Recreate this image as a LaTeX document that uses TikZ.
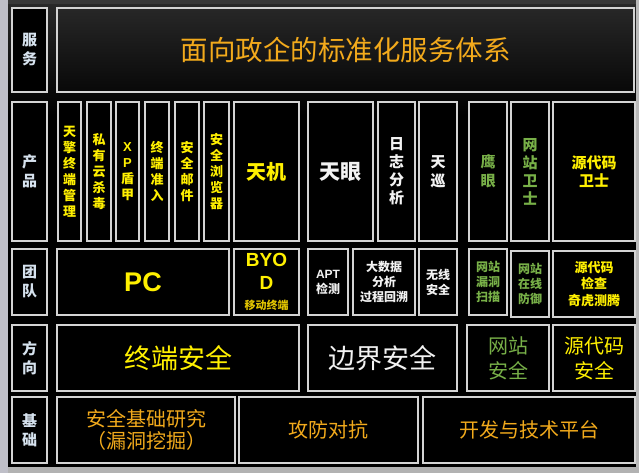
\documentclass[tikz,border=0pt]{standalone}
\usepackage{fontspec}
\setmainfont{Noto Sans CJK SC}
\newfontfamily\lat{Liberation Sans}
\newfontfamily\cjk{Noto Sans CJK SC}
\definecolor{edge}{HTML}{D4D4D4}
\definecolor{gold}{HTML}{F2AA1C}
\definecolor{yel}{HTML}{FFF000}
\definecolor{grn}{HTML}{78B048}
\definecolor{wht}{HTML}{F2F2F2}
\definecolor{lbltxt}{HTML}{D6E2EE}
\definecolor{subyel}{HTML}{E2C400}

\begin{document}
\begin{tikzpicture}[x=1pt,y=-1pt]

  \tikzset{box/.style = {draw=edge, line width=1.5pt, fill=black, inner sep=0pt, align=center}}
  \tikzset{sz/.style 2 args = {minimum width=#1pt, minimum height=#2pt}}
  \tikzset{lbl/.style = {box, sz={35}{66}, text=lbltxt, font=\bfseries\fontsize{15}{19}\selectfont}}
  \tikzset{prod/.style = {box, sz={24}{139}, text=yel, font=\bfseries\fontsize{13}{16}\selectfont}}
  \tikzset{team/.style = {box, sz={38}{66}, font=\bfseries\fontsize{12}{15}\selectfont}}
  \tikzset{big/.style = {box, minimum height=66pt, font=\fontsize{27}{30}\selectfont}}
  \tikzset{base/.style = {box, minimum height=66pt, text=gold, font=\fontsize{20}{23}\selectfont}}

  % background
  \useasboundingbox (0,0) rectangle (639,473);
  \fill[black] (0,0) rectangle (639,473);
  \shade[top color=black!84, bottom color=black] (8,4) rectangle (636,115);
  \fill[black!78] (8,0) rectangle (639,4);
  \fill[gray!45!blue!8!white!80!black] (0,0) rectangle (8,473);
  \fill[gray!55] (636,0) rectangle (639,473);
  \fill[gray!60] (8,467) rectangle (639,473);

  % row labels
  \node[lbl, minimum height=84pt] (lsvc) at (29.5,50) {服\\务};
  \node[lbl, minimum height=139pt] (lprd) at (29.5,171.5) {产\\品};
  \node[lbl] (lteam) at (29.5,282) {团\\队};
  \node[lbl] (ldir) at (29.5,358) {方\\向};
  \node[lbl] (lbase) at (29.5,430) {基\\础};

  % service
  \node[box, fill=none, sz={577}{84}, text=gold, font=\fontsize{27.5}{30}\selectfont] (svc) at (345.5,50) {面向政企的标准化服务体系};

  % products
  \node[prod, minimum width=23pt] (tq) at (69.5,171.5) {天\\擎\\终\\端\\管\\理};
  \node[prod] (sy) at (99,171.5) {私\\有\\云\\杀\\毒};
  \node[prod, minimum width=23pt] (xp) at (127.5,171.5) {{\lat X}\\{\lat P}\\盾\\甲};
  \node[prod] (zr) at (157,171.5) {终\\端\\准\\入};
  \node[prod] (yj) at (187,171.5) {安\\全\\邮\\件};
  \node[prod, minimum width=25pt] (llq) at (216.5,171.5) {安\\全\\浏\\览\\器};
  \node[prod, minimum width=65pt, font=\bfseries\fontsize{20}{24}\selectfont] (tj) at (266.5,171.5) {天机};
  \node[prod, minimum width=65pt, text=wht, font=\bfseries\fontsize{21}{24}\selectfont] (ty) at (340.5,171.5) {天眼};
  \node[prod, minimum width=37pt, text=wht, font=\bfseries\fontsize{15}{18}\selectfont] (rz) at (396.5,171.5) {日\\志\\分\\析};
  \node[prod, minimum width=38pt, text=wht, font=\bfseries\fontsize{15}{19}\selectfont] (tx) at (438,171.5) {天\\巡};
  \node[prod, minimum width=38pt, text=grn, font=\bfseries\fontsize{15}{19}\selectfont] (yy) at (488,171.5) {鹰\\眼};
  \node[prod, minimum width=38pt, text=grn, font=\bfseries\fontsize{15}{18}\selectfont] (wzws) at (530,171.5) {网\\站\\卫\\士};
  \node[prod, minimum width=82pt, font=\bfseries\fontsize{15}{18}\selectfont] (ymws) at (594,171.5) {源代码\\卫士};

  % teams
  \node[team, sz={172}{66}, text=yel, font=\bfseries\lat\fontsize{27}{30}\selectfont] (pc) at (143,282) {PC};
  \node[team, sz={65}{66}, text=yel, font=\bfseries\lat\fontsize{19}{23}\selectfont] (byod) at (266.5,282) {BYO\\D\\[-3pt]{\cjk\fontsize{11}{12}\selectfont\color{subyel}移动终端}};
  \node[team, minimum width=40pt, text=wht] (apt) at (328,282) {{\lat APT}\\检测};
  \node[team, minimum width=62pt, text=wht] (dsj) at (384,282) {大数据\\分析\\过程回溯};
  \node[team, text=wht] (wx) at (438,282) {无线\\安全};
  \node[team, text=grn] (ld) at (488,282) {网站\\漏洞\\扫描};
  \node[team, text=grn] (fy) at (530,284) {网站\\在线\\防御};
  \node[team, minimum width=82pt, text=yel, font=\bfseries\fontsize{13}{16.5}\selectfont] (jc) at (594,284) {源代码\\检查\\奇虎测腾};

  % directions
  \node[big, minimum width=242pt, text=yel] (zd) at (178,358) {终端安全};
  \node[big, minimum width=149pt, text=wht] (bj) at (382.5,358) {边界安全};
  \node[big, minimum width=82pt, text=grn, font=\fontsize{20}{25}\selectfont] (wzaq) at (508,358) {网站\\安全};
  \node[big, minimum width=82pt, text=yel, font=\fontsize{20}{25}\selectfont] (ymaq) at (594,358) {源代码\\安全};

  % base
  \node[base, minimum width=178pt, font=\fontsize{20}{22}\selectfont] (jcyj) at (146,430) {安全基础研究\\（漏洞挖掘）};
  \node[base, minimum width=179pt] (gf) at (328.5,430) {攻防对抗};
  \node[base, minimum width=212pt] (kf) at (529,430) {开发与技术平台};
\end{tikzpicture}
\end{document}
